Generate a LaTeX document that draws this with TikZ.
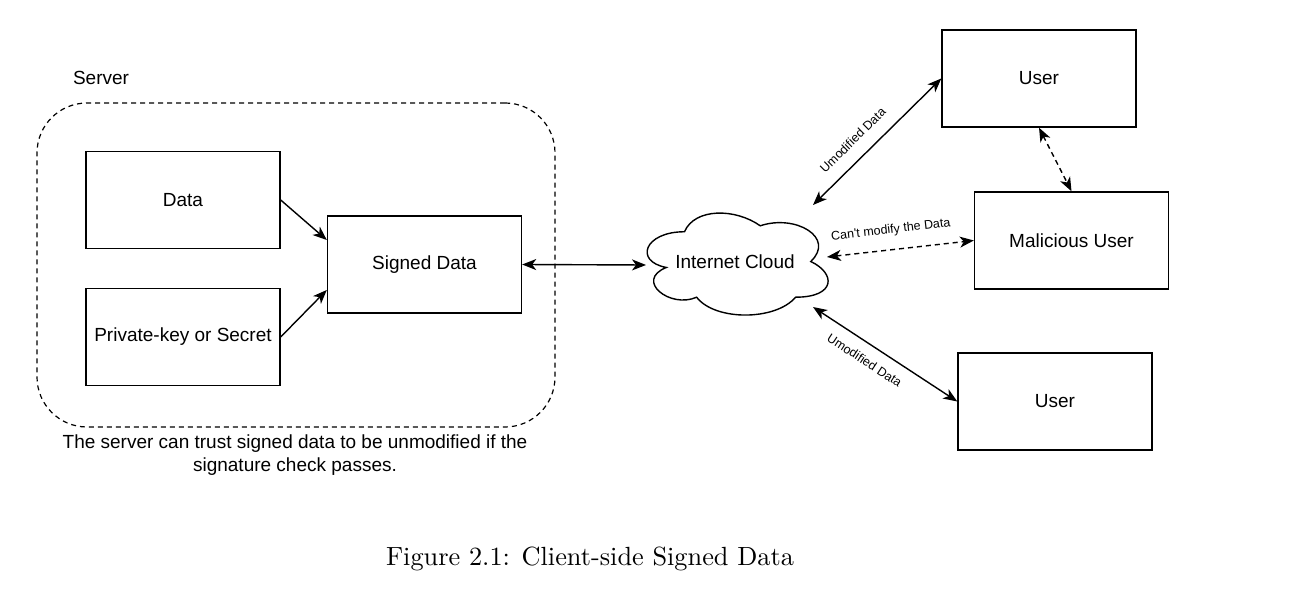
\documentclass[tikz,border=0pt]{standalone}
\usepackage{fontspec}
\newfontfamily\lab{Liberation Sans}
\newfontfamily\capfont{lmroman10-regular}[Extension=.otf]
\usetikzlibrary{arrows.meta,calc}
\begin{document}
\begin{tikzpicture}[x=1pt,y=-1pt,
  txt/.style={font=\lab\fontsize{19}{23}\selectfont},
  small/.style={font=\lab\fontsize{12.5}{15}\selectfont,inner sep=1pt},
  box/.style={draw,line width=1.4pt,minimum width=194pt,minimum height=97pt,inner sep=0pt,txt},
  tip/.style={Stealth[length=14pt,width=11pt,inset=4pt]},
  one/.style={line width=1.4pt,-{Stealth[length=14pt,width=11pt,inset=4pt]}},
  arr/.style={line width=1.4pt,{Stealth[length=14pt,width=11pt,inset=4pt]}-{Stealth[length=14pt,width=11pt,inset=4pt]}},
  dsh/.style={dash pattern=on 5pt off 4pt}
]
\useasboundingbox (0,0) rectangle (1293,593);
% server frame
\node[draw,line width=1.2pt,dsh,rounded corners=50pt,minimum width=518pt,minimum height=324pt,inner sep=0pt] (server) at (296,265) {};
\node[txt] (serverlbl) at (101,78) {Server};
\node[txt,align=center] (note) at (295,455) {The server can trust signed data to be unmodified if the\\signature check passes.};
% boxes
\node[box] (data) at (183,200) {Data};
\node[box] (key) at (183,337) {Private-key or Secret};
\node[box] (sig) at (424.5,264.5) {Signed Data};
\node[box] (u1) at (1039,78.5) {User};
\node[box] (mal) at (1071.5,240.5) {Malicious User};
\node[box] (u2) at (1055,401.5) {User};
% cloud
\node[minimum width=202pt,minimum height=119pt,inner sep=0pt,txt] (cloud) at (735,262) {Internet Cloud};
\begin{scope}[shift={(634,202)},x=202pt,y=-119pt]
\draw[line width=1.4pt] (0.25,0.25) .. controls (0.05,0.25) and (0,0.5) .. (0.16,0.55)
  .. controls (0,0.66) and (0.18,0.9) .. (0.31,0.8)
  .. controls (0.4,1) and (0.7,1) .. (0.8,0.8)
  .. controls (1,0.8) and (1,0.6) .. (0.875,0.5)
  .. controls (1,0.3) and (0.8,0.1) .. (0.625,0.2)
  .. controls (0.5,0.05) and (0.3,0.05) .. (0.25,0.25) -- cycle;
\end{scope}
\coordinate (cW) at (646,265);
\coordinate (cNE) at (813,205);
\coordinate (cE) at (827,257);
\coordinate (cSE) at (813,307);
% connectors
\draw[one] (data.east) -- ($(sig.west)+(0,-24.5)$);
\draw[one] (key.east) -- ($(sig.west)+(0,25.5)$);
\draw[arr] (sig.east) -- (cW);
\draw[arr] (cNE) -- node[pos=0.41,sloped,above=12pt,small]{Umodified Data} (u1.west);
\draw[arr,dsh] (cE) -- node[pos=0.45,sloped,above=12pt,small]{Can't modify the Data} (mal.west);
\draw[arr] (cSE) -- node[pos=0.42,sloped,below=10pt,small]{Umodified Data} (u2.west);
\draw[arr,dsh] (u1.south) -- (mal.north);
% caption
\node[font=\capfont\fontsize{26.3}{30}\selectfont] (cap) at (590,559) {Figure 2.1: Client-side Signed Data};
\end{tikzpicture}
\end{document}
